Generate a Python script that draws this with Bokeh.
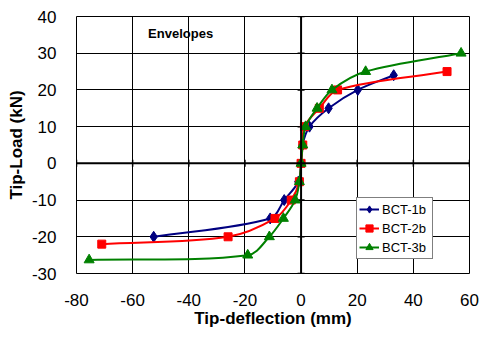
import math
from bokeh.plotting import figure
from bokeh.models import (Range1d, FixedTicker, Span, Legend, LegendItem, ColumnDataSource)
from bokeh.core.properties import value
from bokeh.embed import file_html
from bokeh.resources import INLINE

# ---- data ----
bct1_x = [-52.5, -11.0, -6.0, -1.0, 0.0, 0.5, 3.0, 9.8, 20.2, 33.0]
bct1_y = [-20.0, -15.0, -10.0, -5.0, 0.0, 5.0, 10.0, 15.0, 20.0, 24.0]
bct2_x = [-71.0, -26.0, -9.3, -3.5, -0.6, 0.0, 0.6, 1.2, 6.5, 13.0, 52.0]
bct2_y = [-22.0, -20.0, -15.0, -10.0, -5.0, 0.0, 5.0, 10.0, 15.0, 20.0, 25.0]
bct3_x = [-75.5, -19.0, -11.3, -6.3, -2.1, -0.6, 0.0, 0.6, 1.6, 5.7, 11.0, 23.0, 57.0]
bct3_y = [-26.3, -25.0, -20.0, -15.0, -10.0, -5.0, 0.0, 5.0, 10.0, 15.0, 20.0, 25.0, 30.0]
series_names = ["BCT-1b", "BCT-2b", "BCT-3b"]
x_ticks = [-80, -60, -40, -20, 0, 20, 40, 60]
x_tick_labels = ["-80", "-60", "-40", "-20", "0", "20", "40", "60"]
y_ticks = [-30, -20, -10, 0, 10, 20, 30, 40]
y_tick_labels = ["-30", "-20", "-10", "0", "10", "20", "30", "40"]

FONT = "Liberation Sans"
W, H = 480, 346
ML, MR, MT, MB = 76, 11, 16, 73
FW, FH = W - ML - MR, H - MT - MB
XMIN, XMAX, YMIN, YMAX = -80, 60, -30, 40
SX = FW / (XMAX - XMIN)
SY = FH / (YMAX - YMIN)

p = figure(width=W, height=H, output_backend="svg", toolbar_location=None,
           x_range=Range1d(XMIN, XMAX), y_range=Range1d(YMIN, YMAX),
           min_border_left=ML, min_border_right=MR, min_border_top=MT,
           min_border_bottom=MB)
p.background_fill_color = "white"
p.border_fill_color = "white"
p.outline_line_color = "black"
p.outline_line_width = 1

for ax, ticks, labels in ((p.xaxis[0], x_ticks, x_tick_labels), (p.yaxis[0], y_ticks, y_tick_labels)):
    ax.ticker = FixedTicker(ticks=ticks)
    ax.major_label_overrides = {t: l for t, l in zip(ticks, labels)}
    ax.axis_line_color = None
    ax.major_tick_line_color = None
    ax.minor_tick_line_color = None
    ax.major_label_text_font = FONT
    ax.major_label_text_font_size = "17px"
    ax.major_label_text_color = "black"
    ax.axis_label_text_font = FONT
    ax.axis_label_text_font_size = "17px"
    ax.axis_label_text_font_style = "bold"
    ax.axis_label_text_color = "black"

p.xaxis.axis_label = "Tip-deflection (mm)"
p.yaxis.axis_label = "Tip-Load (kN)"
p.xaxis.major_label_standoff = 14
p.xaxis.axis_label_standoff = 0
p.yaxis.major_label_standoff = 14
p.yaxis.axis_label_standoff = 3

p.xgrid.ticker = FixedTicker(ticks=x_ticks)
p.ygrid.ticker = FixedTicker(ticks=y_ticks)
for g in (p.xgrid[0], p.ygrid[0]):
    g.grid_line_color = "black"
    g.grid_line_width = 1

# zero axes
p.add_layout(Span(location=0, dimension="width", line_color="black", line_width=2))
p.add_layout(Span(location=0, dimension="height", line_color="black", line_width=2))
p.scatter(x=x_ticks, y=[0] * len(x_ticks), marker="dash", size=7, angle=math.pi / 2,
          line_color="black", line_width=1.5)
p.scatter(x=[0] * len(y_ticks), y=y_ticks, marker="dash", size=7,
          line_color="black", line_width=1.5)


def smooth(xs, ys):
    # cardinal-spline bezier segments computed in screen-proportional space
    n = len(xs)
    px = [x * SX for x in xs]
    py = [y * SY for y in ys]
    tang = []
    for i in range(n):
        a = max(i - 1, 0)
        b = min(i + 1, n - 1)
        dx, dy = px[b] - px[a], py[b] - py[a]
        d = math.hypot(dx, dy) or 1.0
        tang.append((dx / d, dy / d))
    out = dict(x0=[], y0=[], x1=[], y1=[], cx0=[], cy0=[], cx1=[], cy1=[])
    for i in range(n - 1):
        L = math.hypot(px[i + 1] - px[i], py[i + 1] - py[i]) / 3.0
        out["x0"].append(xs[i]); out["y0"].append(ys[i])
        out["x1"].append(xs[i + 1]); out["y1"].append(ys[i + 1])
        out["cx0"].append((px[i] + tang[i][0] * L) / SX)
        out["cy0"].append((py[i] + tang[i][1] * L) / SY)
        out["cx1"].append((px[i + 1] - tang[i + 1][0] * L) / SX)
        out["cy1"].append((py[i + 1] - tang[i + 1][1] * L) / SY)
    return ColumnDataSource(out)


styles = [("#000080", "diamond", 11), ("#FF0000", "square", 8), ("#008000", "triangle", 10)]
items = []
for name, xs, ys, (col, mk, sz) in zip(series_names, [bct1_x, bct2_x, bct3_x],
                                        [bct1_y, bct2_y, bct3_y], styles):
    src = smooth(xs, ys)
    br = p.bezier(x0="x0", y0="y0", x1="x1", y1="y1", cx0="cx0", cy0="cy0",
                  cx1="cx1", cy1="cy1", source=src, line_color=col, line_width=2)
    sr = p.scatter(x=xs, y=ys, marker=mk, size=sz, fill_color=col, line_color=col)
    items.append(LegendItem(label=name, renderers=[br, sr]))

legend = Legend(items=items, location=(280, 14), orientation="vertical")
legend.label_text_font = FONT
legend.label_text_font_size = "13px"
legend.label_text_color = "black"
legend.glyph_width = 20
legend.glyph_height = 18
legend.label_height = 18
legend.label_width = 48
legend.label_standoff = 3
legend.spacing = 1
legend.padding = 2
legend.margin = 0
legend.border_line_color = "black"
legend.border_line_width = 1
legend.background_fill_color = "white"
legend.background_fill_alpha = 1
p.add_layout(legend)

p.text(x=[-54.5], y=[35.3], text=["Envelopes"], text_font=value(FONT),
       text_font_size="13px", text_font_style="bold", text_color="black",
       text_align="left", text_baseline="middle")

open("out.html", "w").write(file_html(p, INLINE))
